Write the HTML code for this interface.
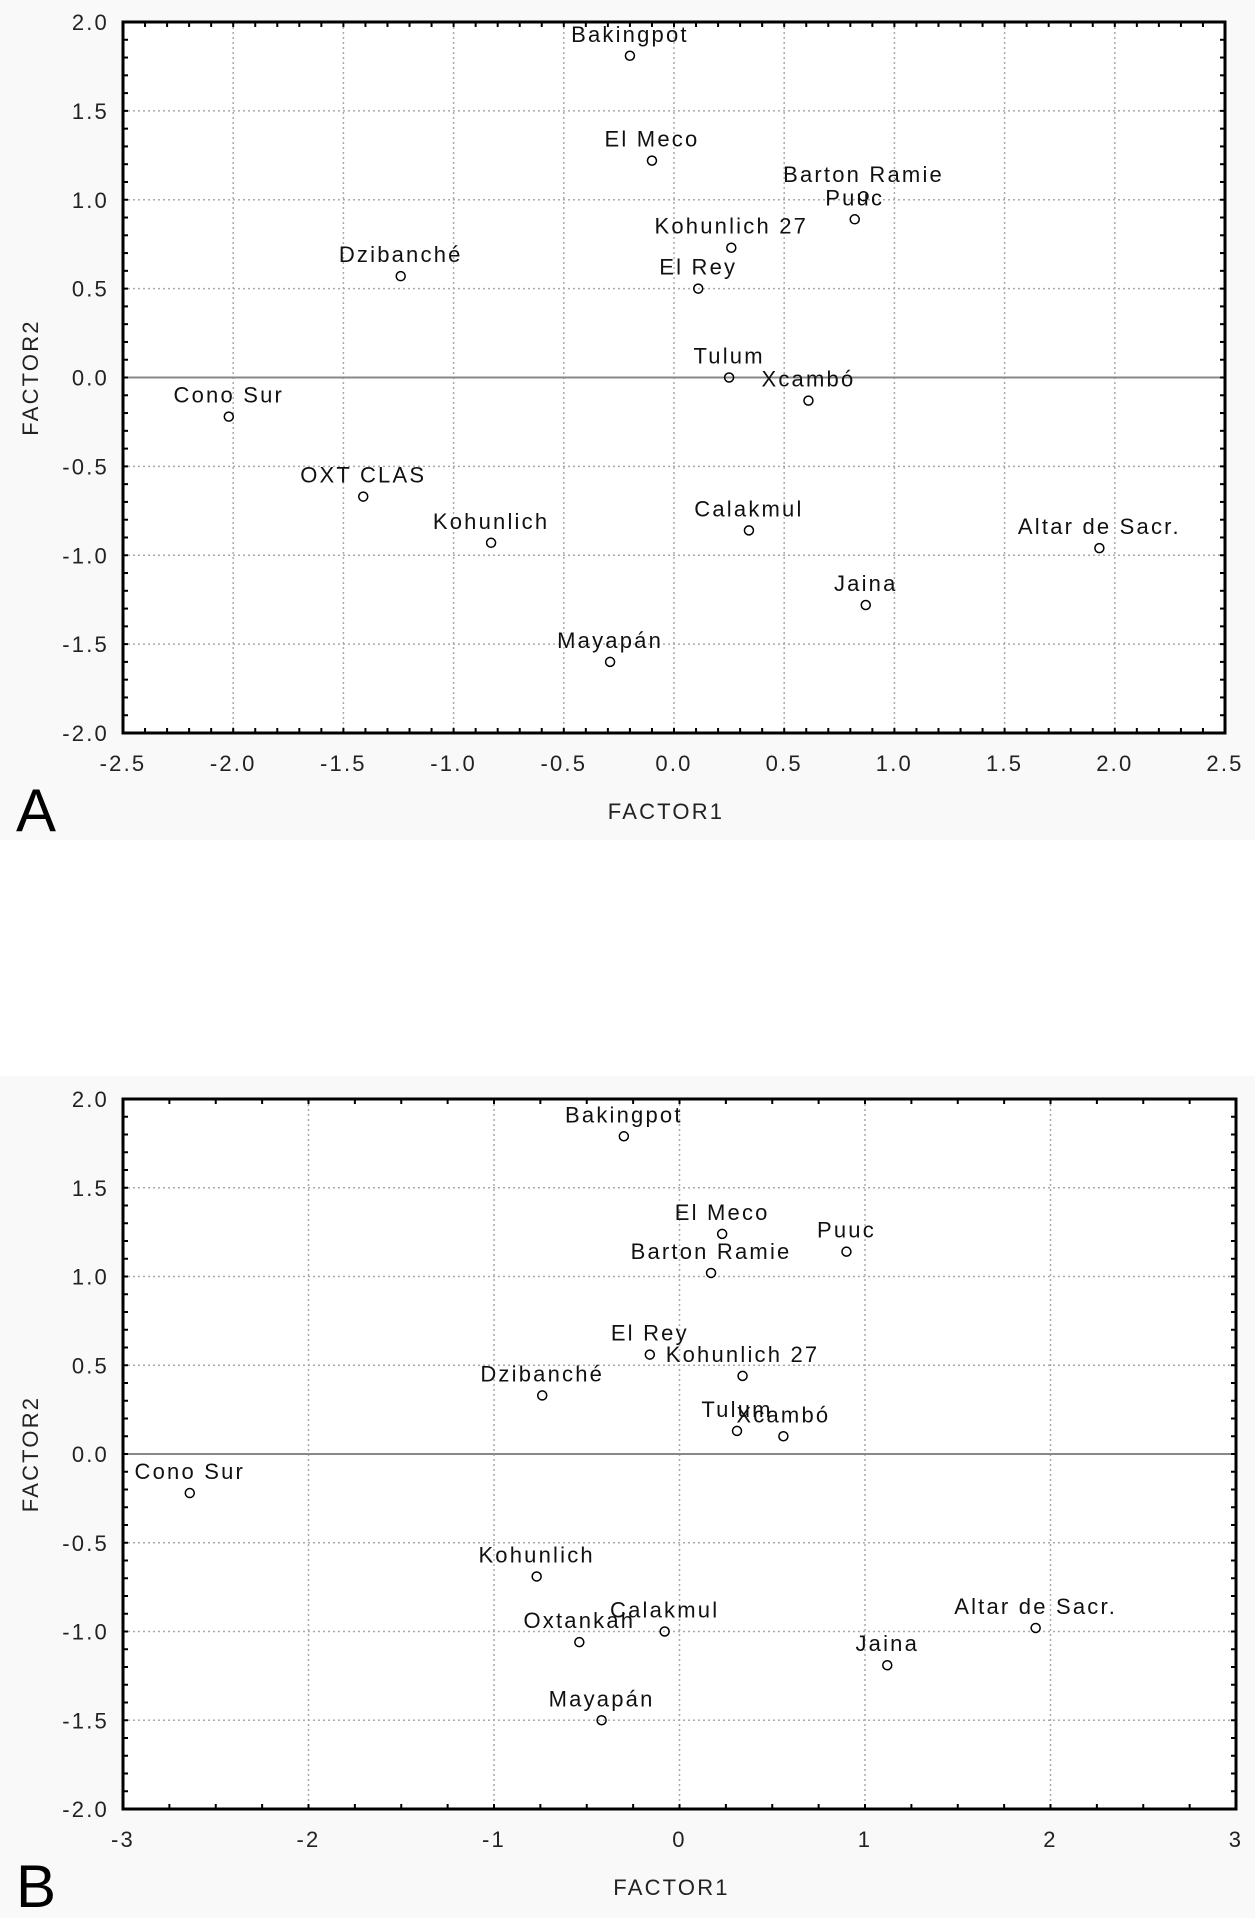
<!DOCTYPE html>
<html><head><meta charset="utf-8"><style>
body{margin:0;background:#fff;width:1255px;height:1918px;overflow:hidden;font-family:"Liberation Sans",sans-serif}
svg{position:absolute;left:0;top:0}
text{letter-spacing:2.2px}
</style></head><body>
<svg id="fig" width="1255" height="1918" xmlns="http://www.w3.org/2000/svg">
<rect x="0" y="0" width="1255" height="840" fill="#f9f9f9"/>
<rect x="0" y="1076" width="1255" height="842" fill="#f9f9f9"/>
</svg>
<script>
const namesA = ["Bakingpot","El Meco","Barton Ramie","Puuc","Kohunlich 27","El Rey","Dzibanché","Tulum","Xcambó","Cono Sur","OXT CLAS","Kohunlich","Calakmul","Altar de Sacr.","Jaina","Mayapán"];
const xA = [-0.20,-0.10,0.86,0.82,0.26,0.11,-1.24,0.25,0.61,-2.02,-1.41,-0.83,0.34,1.93,0.87,-0.29];
const yA = [1.81,1.22,1.02,0.89,0.73,0.50,0.57,0.00,-0.13,-0.22,-0.67,-0.93,-0.86,-0.96,-1.28,-1.60];
const namesB = ["Bakingpot","El Meco","Puuc","Barton Ramie","El Rey","Kohunlich 27","Dzibanché","Tulum","Xcambó","Cono Sur","Kohunlich","Calakmul","Oxtankah","Altar de Sacr.","Jaina","Mayapán"];
const xB = [-0.30,0.23,0.90,0.17,-0.16,0.34,-0.74,0.31,0.56,-2.64,-0.77,-0.08,-0.54,1.92,1.12,-0.42];
const yB = [1.79,1.24,1.14,1.02,0.56,0.44,0.33,0.13,0.10,-0.22,-0.69,-1.00,-1.06,-0.98,-1.19,-1.50];
const xTicksA = ["-2.5","-2.0","-1.5","-1.0","-0.5","0.0","0.5","1.0","1.5","2.0","2.5"];
const xTicksB = ["-3","-2","-1","0","1","2","3"];
const yTicks = ["2.0","1.5","1.0","0.5","0.0","-0.5","-1.0","-1.5","-2.0"];

const svg = document.getElementById('fig');
const NS = "http://www.w3.org/2000/svg";
function mk(tag, attrs, parent){const e=document.createElementNS(NS,tag);for(const k in attrs)e.setAttribute(k,attrs[k]);(parent||svg).appendChild(e);return e;}

function chart(cfg){
  const {L,R,T,B,xmin,xmax,xticks,xminor,names,xs,ys,letter,id} = cfg;
  const g = mk('g',{});
  
  
  const sx = v => L + (v - xmin)/(xmax - xmin)*(R - L);
  const sy = v => T + (2 - v)/4*(B - T);
  mk('rect',{x:L,y:T,width:R-L,height:B-T,fill:'#fff'},g);
  xticks.forEach(t=>{const v=parseFloat(t);if(v>xmin&&v<xmax){const l=mk('line',{x1:sx(v),x2:sx(v),y1:T,y2:B,stroke:'#aaa','stroke-width':1.5,'stroke-dasharray':'2 3'},g);
    
    }});
  yTicks.forEach(t=>{const v=parseFloat(t);if(v>-2&&v<2&&v!==0){const l=mk('line',{x1:L,x2:R,y1:sy(v),y2:sy(v),stroke:'#aaa','stroke-width':1.5,'stroke-dasharray':'2 3'},g);
    
    }});
  const z = mk('line',{x1:L,x2:R,y1:sy(0),y2:sy(0),stroke:'#888','stroke-width':2},g);
  
  
  for(let v=xmin; v<=xmax+1e-9; v+=xminor){
    mk('line',{x1:sx(v),x2:sx(v),y1:B,y2:B-5,stroke:'#000','stroke-width':2},g);
    mk('line',{x1:sx(v),x2:sx(v),y1:T,y2:T+5,stroke:'#000','stroke-width':2},g);
  }
  for(let v=-2; v<=2+1e-9; v+=0.1){
    mk('line',{x1:L,x2:L+5,y1:sy(v),y2:sy(v),stroke:'#000','stroke-width':2},g);
    mk('line',{x1:R,x2:R-5,y1:sy(v),y2:sy(v),stroke:'#000','stroke-width':2},g);
  }
  const frame = mk('rect',{x:L,y:T,width:R-L,height:B-T,fill:'none',stroke:'#000','stroke-width':3},g);
  
  
  xticks.forEach(t=>{const e=mk('text',{x:sx(parseFloat(t)),y:B+38,'text-anchor':'middle','font-size':22,fill:'#222'},g);e.textContent=t;
    
    });
  yTicks.forEach(t=>{const e=mk('text',{x:L-14,y:sy(parseFloat(t))+8,'text-anchor':'end','font-size':22,fill:'#222'},g);e.textContent=t;
    
    });
  const xt = mk('text',{x:(L+R)/2-8,y:B+86,'text-anchor':'middle','font-size':22,fill:'#222'},g);xt.textContent='FACTOR1';
  
  
  const cy=(T+B)/2;
  const yt = mk('text',{x:38,y:cy,'text-anchor':'middle','font-size':22,fill:'#222',transform:`rotate(-90 38 ${cy})`},g);yt.textContent='FACTOR2';
  
  
  const lt = mk('text',{x:16,y:B+98,'font-size':60,fill:'#000',style:'letter-spacing:0'},g);lt.textContent=letter;
  
  
  names.forEach((n,i)=>{
    const px=sx(xs[i]), py=sy(ys[i]);
    const c=mk('circle',{cx:px,cy:py,r:4.5,fill:'none',stroke:'#000','stroke-width':1.5},g);
    
    
    const t=mk('text',{x:px,y:py-14,'text-anchor':'middle','font-size':22,fill:'#111'},g);t.textContent=n;
    
    
  });
}
chart({id:'a',L:123,R:1225,T:22,B:733,xmin:-2.5,xmax:2.5,xticks:xTicksA,xminor:0.1,names:namesA,xs:xA,ys:yA,letter:'A'});
chart({id:'b',L:123,R:1236,T:1099,B:1809,xmin:-3,xmax:3,xticks:xTicksB,xminor:0.25,names:namesB,xs:xB,ys:yB,letter:'B'});
</script>
</body></html>
